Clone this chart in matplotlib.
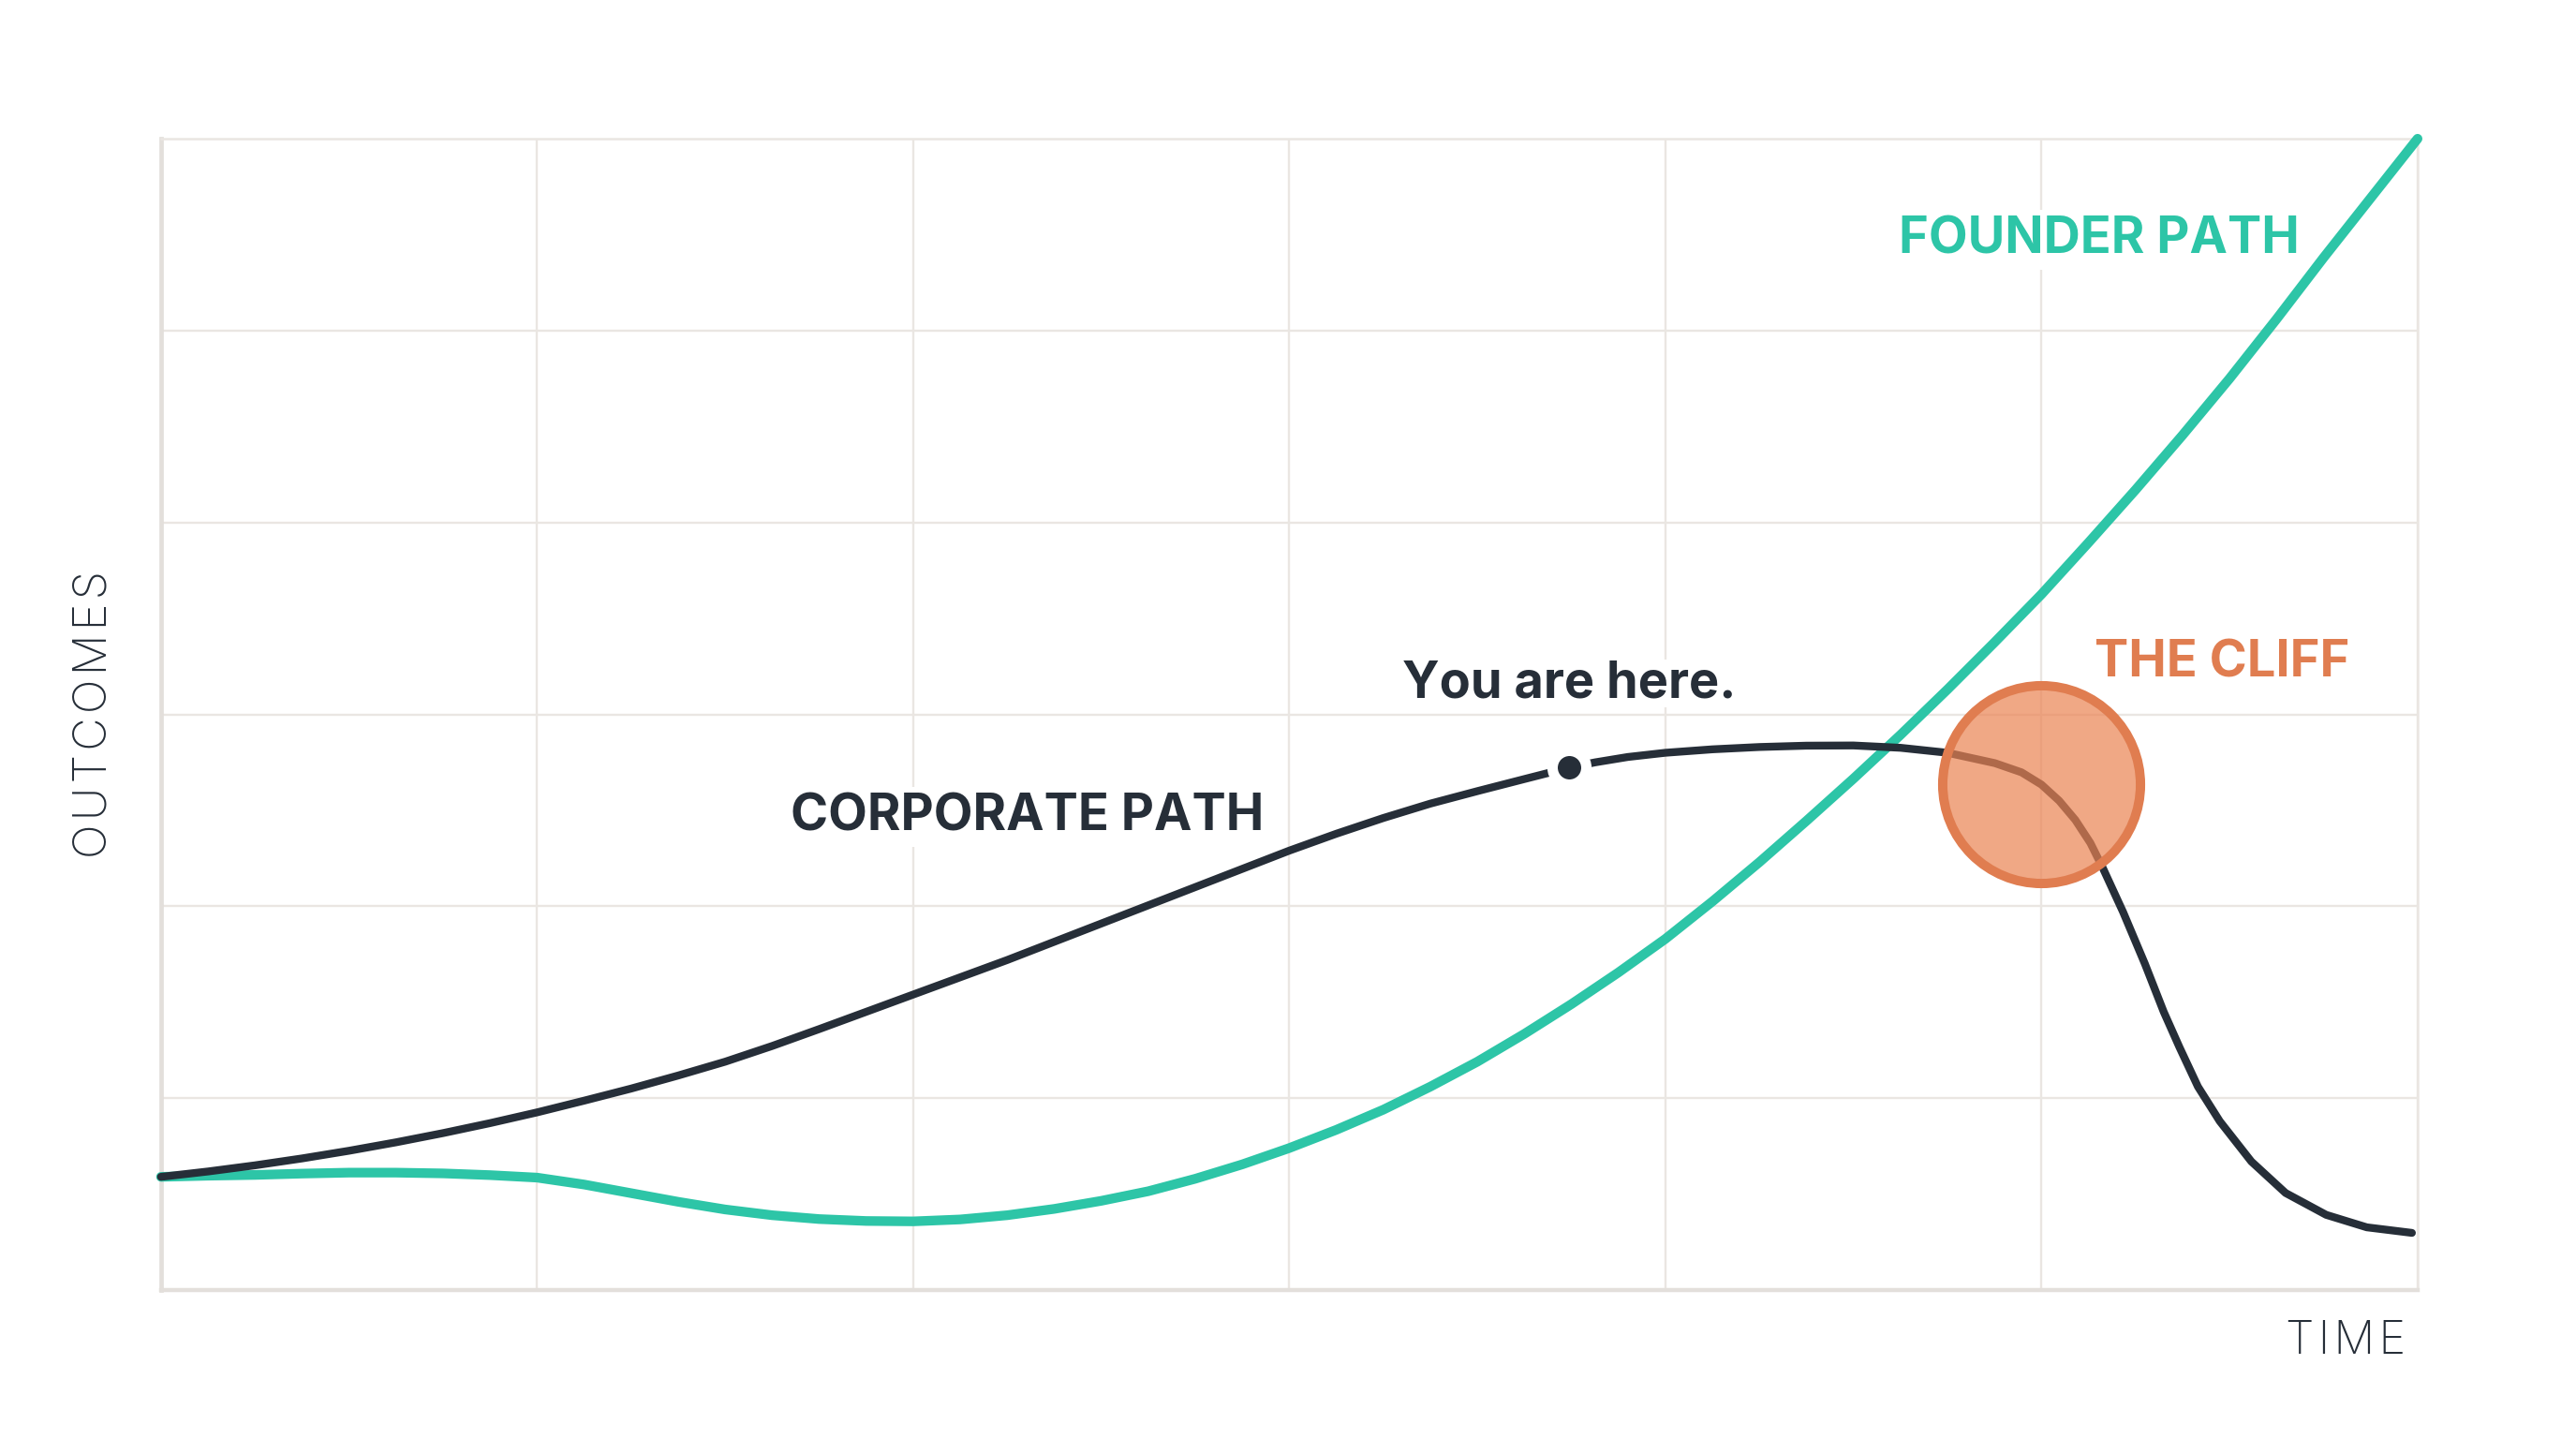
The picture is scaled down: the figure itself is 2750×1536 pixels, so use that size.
import matplotlib
matplotlib.use("Agg")
import matplotlib.pyplot as plt

# ---- data ----
corp_x = [0.0, 0.125, 0.25, 0.375, 0.5, 0.625, 0.75, 0.875, 1.0, 1.125, 1.25, 1.375,
          1.5, 1.625, 1.75, 1.875, 2.0, 2.125, 2.25, 2.375, 2.5, 2.625, 2.75, 2.875,
          3.0, 3.125, 3.25, 3.375, 3.5, 3.625, 3.743, 3.813, 3.9, 4.0, 4.125, 4.25,
          4.375, 4.5, 4.625, 4.75, 4.876, 4.947, 5.0, 5.047, 5.09, 5.13, 5.163, 5.217,
          5.275, 5.325, 5.367, 5.416, 5.474, 5.558, 5.649, 5.757, 5.865, 5.985]
corp_y = [0.59, 0.618, 0.65, 0.686, 0.726, 0.77, 0.818, 0.87, 0.926, 0.987, 1.05, 1.118,
          1.19, 1.272, 1.36, 1.45, 1.54, 1.63, 1.72, 1.815, 1.91, 2.005, 2.10, 2.195,
          2.29, 2.378, 2.46, 2.535, 2.60, 2.663, 2.722, 2.75, 2.778, 2.80, 2.818, 2.83,
          2.837, 2.838, 2.826, 2.80, 2.746, 2.698, 2.634, 2.55, 2.45, 2.33, 2.20, 1.97,
          1.70, 1.45, 1.265, 1.06, 0.88, 0.67, 0.506, 0.392, 0.327, 0.298]

founder_x = [0.0, 0.125, 0.25, 0.375, 0.5, 0.625, 0.75, 0.875, 1.0, 1.125, 1.25, 1.375,
             1.5, 1.625, 1.75, 1.875, 2.0, 2.125, 2.25, 2.375, 2.5, 2.625, 2.75, 2.875,
             3.0, 3.125, 3.25, 3.375, 3.5, 3.625, 3.75, 3.875, 4.0, 4.125, 4.25, 4.375,
             4.5, 4.625, 4.75, 4.875, 5.0, 5.125, 5.25, 5.375, 5.5, 5.625, 5.75, 5.875,
             6.0]
founder_y = [0.59, 0.596, 0.60, 0.607, 0.612, 0.612, 0.608, 0.599, 0.586, 0.55, 0.505, 0.46,
             0.42, 0.39, 0.37, 0.36, 0.358, 0.368, 0.39, 0.423, 0.465, 0.515, 0.58, 0.655,
             0.74, 0.835, 0.94, 1.06, 1.19, 1.335, 1.49, 1.655, 1.83, 2.025, 2.23, 2.445,
             2.665, 2.893, 3.13, 3.375, 3.626, 3.895, 4.17, 4.455, 4.75, 5.06, 5.38, 5.69,
             6.0]

you_x, you_y = 3.743, 2.722
cliff_x, cliff_y = 5.0, 2.637

x_ticks = [0, 1, 2, 3, 4, 5, 6]
y_ticks = [0, 1, 2, 3, 4, 5, 6]

DARK = "#262E38"
TEAL = "#2DC5A7"
ORANGE = "#E07D50"
GRID = "#EAE6E2"
SPINE = "#E3DFDB"

fig = plt.figure(figsize=(13.75, 7.68), dpi=200)
fig.patch.set_facecolor("white")
ax = fig.add_axes([0.0625, 0.1035, 0.876, 0.8001])
ax.set_xlim(0, 6)
ax.set_ylim(0, 6)
ax.set_xticks(x_ticks)
ax.set_yticks(y_ticks)
ax.tick_params(length=0, labelbottom=False, labelleft=False)
ax.grid(True, color=GRID, linewidth=0.85, zorder=0)
ax.set_axisbelow(True)
for side in ["top", "right"]:
    ax.spines[side].set_color(GRID)
    ax.spines[side].set_linewidth(0.9)
ax.spines["left"].set_color(SPINE)
ax.spines["left"].set_linewidth(1.7)
ax.spines["bottom"].set_color(SPINE)
ax.spines["bottom"].set_linewidth(1.6)

bold = dict(family=["Inter", "Roboto", "DejaVu Sans"], fontweight="bold", fontsize=19.5)
box = dict(boxstyle="square,pad=0.12", facecolor="white", edgecolor="none")
tight_box = dict(boxstyle="square,pad=0.0", facecolor="white", edgecolor="none")

ax.text(2.302, 2.466, "CORPORATE PATH", color=DARK, ha="center", va="center",
        bbox=box, zorder=3, **bold)
ax.text(5.153, 5.475, "FOUNDER PATH", color=TEAL, ha="center", va="center",
        bbox=box, zorder=3, **bold)
ax.text(3.743, 3.16, "You are here.", color=DARK, ha="center", va="center",
        bbox=tight_box, zorder=3, **bold)
ax.text(5.48, 3.265, "THE CLIFF", color=ORANGE, ha="center", va="center",
        bbox=box, zorder=3, **bold)

light = dict(family=["Inter", "Open Sans", "DejaVu Sans"], fontweight="light", fontsize=17.5,
             color=DARK)
hs = "\u200a"
ax.text(-0.0295, 0.5, hs.join("OUTCOMES"), transform=ax.transAxes, rotation=90,
        ha="center", va="center", **light)
ax.text(5.968, -0.27, hs.join("TIME"), ha="right", va="center", clip_on=False, **light)

ax.plot(founder_x, founder_y, color=TEAL, linewidth=3.7, solid_capstyle="round",
        solid_joinstyle="round", clip_on=False, zorder=4)
ax.plot(corp_x, corp_y, color=DARK, linewidth=3.0, solid_capstyle="round",
        solid_joinstyle="round", clip_on=False, zorder=4)

ax.plot([you_x], [you_y], "o", ms=17, color="white", mec="none", zorder=5)
ax.plot([you_x], [you_y], "o", ms=9, color=DARK, mec="none", zorder=6)

ax.plot([cliff_x], [cliff_y], "o", ms=76, mfc=(0.922, 0.514, 0.322, 0.7),
        mec=ORANGE, mew=3.6, zorder=7, clip_on=False)

fig.savefig("out.png", dpi=200, facecolor="white")
